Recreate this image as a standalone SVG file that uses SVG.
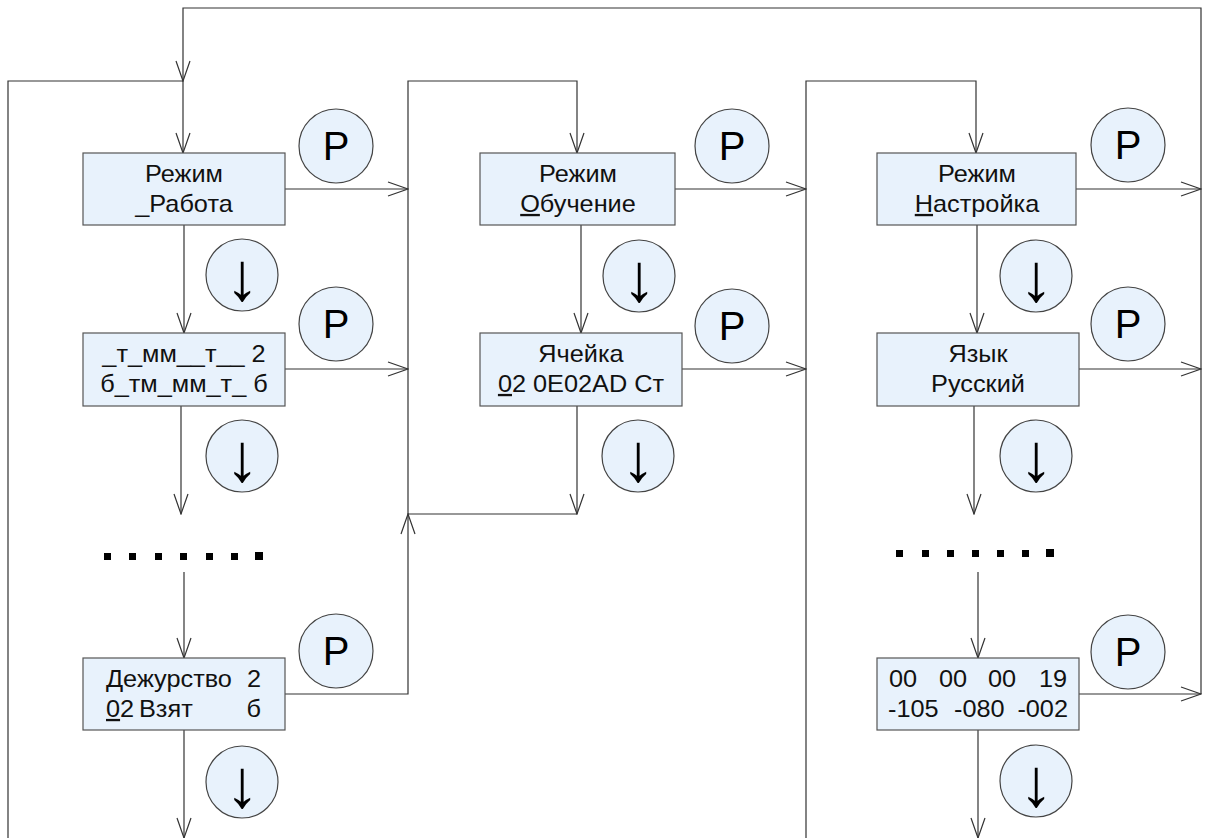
<svg xmlns="http://www.w3.org/2000/svg" width="1209" height="838" viewBox="0 0 1209 838">
<style>
.box{fill:#E8F2FC;stroke:#555;stroke-width:1.2}
.cir{fill:#E8F2FC;stroke:#444;stroke-width:1.2}
.t{font-family:"Liberation Sans",Arial,sans-serif;font-size:23px;fill:#111}
.m{text-anchor:middle}
.e{text-anchor:end}
.p{font-family:"Liberation Sans",Arial,sans-serif;font-size:40px;fill:#000;text-anchor:middle}
.d{font-family:"Liberation Sans",Arial,sans-serif;font-size:68px;fill:#000;text-anchor:middle}
.ln{fill:none;stroke:#333;stroke-width:1.2}
.u{text-decoration:underline}
.dot{fill:#000}
</style>
<defs>
<marker id="ah" viewBox="0 0 22 16" refX="21" refY="8" markerWidth="22" markerHeight="16" markerUnits="userSpaceOnUse" orient="auto">
<path d="M1,1 L21,8 L1,15" fill="none" stroke="#333" stroke-width="1.2"/>
</marker>
</defs>
<g id="connectors">
<path class="ln" d="M1201,694 V8 H183 V81" marker-end="url(#ah)"/>
<path class="ln" d="M8,838 V81 H183"/>
<path class="ln" d="M183,81 V153" marker-end="url(#ah)"/>
<path class="ln" d="M285,189 H408" marker-end="url(#ah)"/>
<path class="ln" d="M285,369 H408" marker-end="url(#ah)"/>
<path class="ln" d="M285,694 H408 V514" marker-end="url(#ah)"/>
<path class="ln" d="M408,514 V81 H577 V153" marker-end="url(#ah)"/>
<path class="ln" d="M184,225 V333" marker-end="url(#ah)"/>
<path class="ln" d="M181,406 V514" marker-end="url(#ah)"/>
<path class="ln" d="M184,572 V658" marker-end="url(#ah)"/>
<path class="ln" d="M184,730 V838" marker-end="url(#ah)"/>
<path class="ln" d="M581,225 V333" marker-end="url(#ah)"/>
<path class="ln" d="M577,406 V514" marker-end="url(#ah)"/>
<path class="ln" d="M577,514 H408"/>
<path class="ln" d="M675,189 H806" marker-end="url(#ah)"/>
<path class="ln" d="M682,369 H806" marker-end="url(#ah)"/>
<path class="ln" d="M806,838 V81 H976 V153" marker-end="url(#ah)"/>
<path class="ln" d="M977,225 V333" marker-end="url(#ah)"/>
<path class="ln" d="M974,406 V514" marker-end="url(#ah)"/>
<path class="ln" d="M978,572 V658" marker-end="url(#ah)"/>
<path class="ln" d="M978,730 V838" marker-end="url(#ah)"/>
<path class="ln" d="M1076,189 H1201" marker-end="url(#ah)"/>
<path class="ln" d="M1079,369 H1201" marker-end="url(#ah)"/>
<path class="ln" d="M1079,694 H1201" marker-end="url(#ah)"/>
</g>
<g id="dots-left">
<rect class="dot" x="104" y="553" width="7" height="7"/>
<rect class="dot" x="129" y="553" width="7" height="7"/>
<rect class="dot" x="155" y="553" width="7" height="7"/>
<rect class="dot" x="180" y="553" width="7" height="7"/>
<rect class="dot" x="206" y="553" width="7" height="7"/>
<rect class="dot" x="231" y="553" width="7" height="7"/>
<rect class="dot" x="255" y="552" width="8" height="8"/>
</g>
<g id="dots-right">
<rect class="dot" x="896" y="550" width="7" height="7"/>
<rect class="dot" x="922" y="550" width="7" height="7"/>
<rect class="dot" x="947" y="550" width="7" height="7"/>
<rect class="dot" x="972" y="550" width="7" height="7"/>
<rect class="dot" x="997" y="550" width="7" height="7"/>
<rect class="dot" x="1022" y="550" width="7" height="7"/>
<rect class="dot" x="1046" y="549" width="8" height="8"/>
</g>
<g id="n-rabota">
<rect class="box" x="83" y="153" width="202" height="72"/>
<text class="t m" transform="translate(184,182) scale(1.1,1)">Режим</text>
<text class="t m" transform="translate(184,212) scale(1.1,1)">_Работа</text>
</g>
<g id="n-time">
<rect class="box" x="83" y="333" width="202" height="73"/>
<text class="t m" transform="translate(184,362) scale(1.1,1)">_т_мм__т__ 2</text>
<text class="t m" transform="translate(184,392) scale(1.1,1)">б_тм_мм_т_ б</text>
</g>
<g id="n-duty">
<rect class="box" x="83" y="658" width="202" height="72"/>
<text class="t" transform="translate(106,687) scale(1.1,1)">Дежурство</text>
<text class="t e" transform="translate(261,687) scale(1.1,1)">2</text>
<text class="t" transform="translate(106,717) scale(1.1,1)"><tspan class="u">0</tspan>2</text>
<text class="t" transform="translate(139,717) scale(1.1,1)">Взят</text>
<text class="t e" transform="translate(261,717) scale(1.1,1)">б</text>
</g>
<g id="n-obuchenie">
<rect class="box" x="480" y="153" width="195" height="72"/>
<text class="t m" transform="translate(578,182) scale(1.1,1)">Режим</text>
<text class="t m" transform="translate(578,212) scale(1.1,1)"><tspan class="u">О</tspan>бучение</text>
</g>
<g id="n-yacheika">
<rect class="box" x="480" y="333" width="202" height="73"/>
<text class="t m" transform="translate(581,362) scale(1.1,1)">Ячейка</text>
<text class="t m" transform="translate(581,392) scale(1.1,1)"><tspan class="u">0</tspan>2 0E02AD Ст</text>
</g>
<g id="n-nastroika">
<rect class="box" x="877" y="153" width="199" height="72"/>
<text class="t m" transform="translate(977,182) scale(1.1,1)">Режим</text>
<text class="t m" transform="translate(977,212) scale(1.1,1)"><tspan class="u">Н</tspan>астройка</text>
</g>
<g id="n-yazyk">
<rect class="box" x="877" y="333" width="202" height="73"/>
<text class="t m" transform="translate(978,362) scale(1.1,1)">Язык</text>
<text class="t m" transform="translate(978,392) scale(1.1,1)">Русский</text>
</g>
<g id="n-values">
<rect class="box" x="877" y="658" width="202" height="72"/>
<text class="t" transform="translate(889,687) scale(1.1,1)">00</text>
<text class="t" transform="translate(939,687) scale(1.1,1)">00</text>
<text class="t" transform="translate(988,687) scale(1.1,1)">00</text>
<text class="t e" transform="translate(1067,687) scale(1.1,1)">19</text>
<text class="t" transform="translate(888,717) scale(1.1,1)">-105</text>
<text class="t" transform="translate(954,717) scale(1.1,1)">-080</text>
<text class="t e" transform="translate(1068,717) scale(1.1,1)">-002</text>
</g>
<g id="keys">
<g id="k-p1"><circle class="cir" cx="336" cy="146" r="37"/><text class="p" x="336" y="160">P</text></g>
<g id="k-d1"><circle class="cir" cx="242" cy="275" r="36"/><text class="d" x="242" y="300">↓</text></g>
<g id="k-p2"><circle class="cir" cx="336" cy="324" r="37"/><text class="p" x="336" y="338">P</text></g>
<g id="k-d2"><circle class="cir" cx="242" cy="456" r="36"/><text class="d" x="242" y="481">↓</text></g>
<g id="k-p3"><circle class="cir" cx="336" cy="651" r="37"/><text class="p" x="336" y="665">P</text></g>
<g id="k-d3"><circle class="cir" cx="242" cy="782" r="36"/><text class="d" x="242" y="807">↓</text></g>
<g id="k-p4"><circle class="cir" cx="732" cy="146" r="37"/><text class="p" x="732" y="160">P</text></g>
<g id="k-d4"><circle class="cir" cx="639" cy="276" r="36"/><text class="d" x="639" y="301">↓</text></g>
<g id="k-p5"><circle class="cir" cx="732" cy="326" r="37"/><text class="p" x="732" y="340">P</text></g>
<g id="k-d5"><circle class="cir" cx="638" cy="456" r="36"/><text class="d" x="638" y="481">↓</text></g>
<g id="k-p6"><circle class="cir" cx="1128" cy="145" r="37"/><text class="p" x="1128" y="159">P</text></g>
<g id="k-d6"><circle class="cir" cx="1036" cy="276" r="36"/><text class="d" x="1036" y="301">↓</text></g>
<g id="k-p7"><circle class="cir" cx="1128" cy="324" r="37"/><text class="p" x="1128" y="338">P</text></g>
<g id="k-d7"><circle class="cir" cx="1036" cy="456" r="36"/><text class="d" x="1036" y="481">↓</text></g>
<g id="k-p8"><circle class="cir" cx="1128" cy="652" r="37"/><text class="p" x="1128" y="666">P</text></g>
<g id="k-d8"><circle class="cir" cx="1036" cy="781" r="36"/><text class="d" x="1036" y="806">↓</text></g>
</g>
</svg>
